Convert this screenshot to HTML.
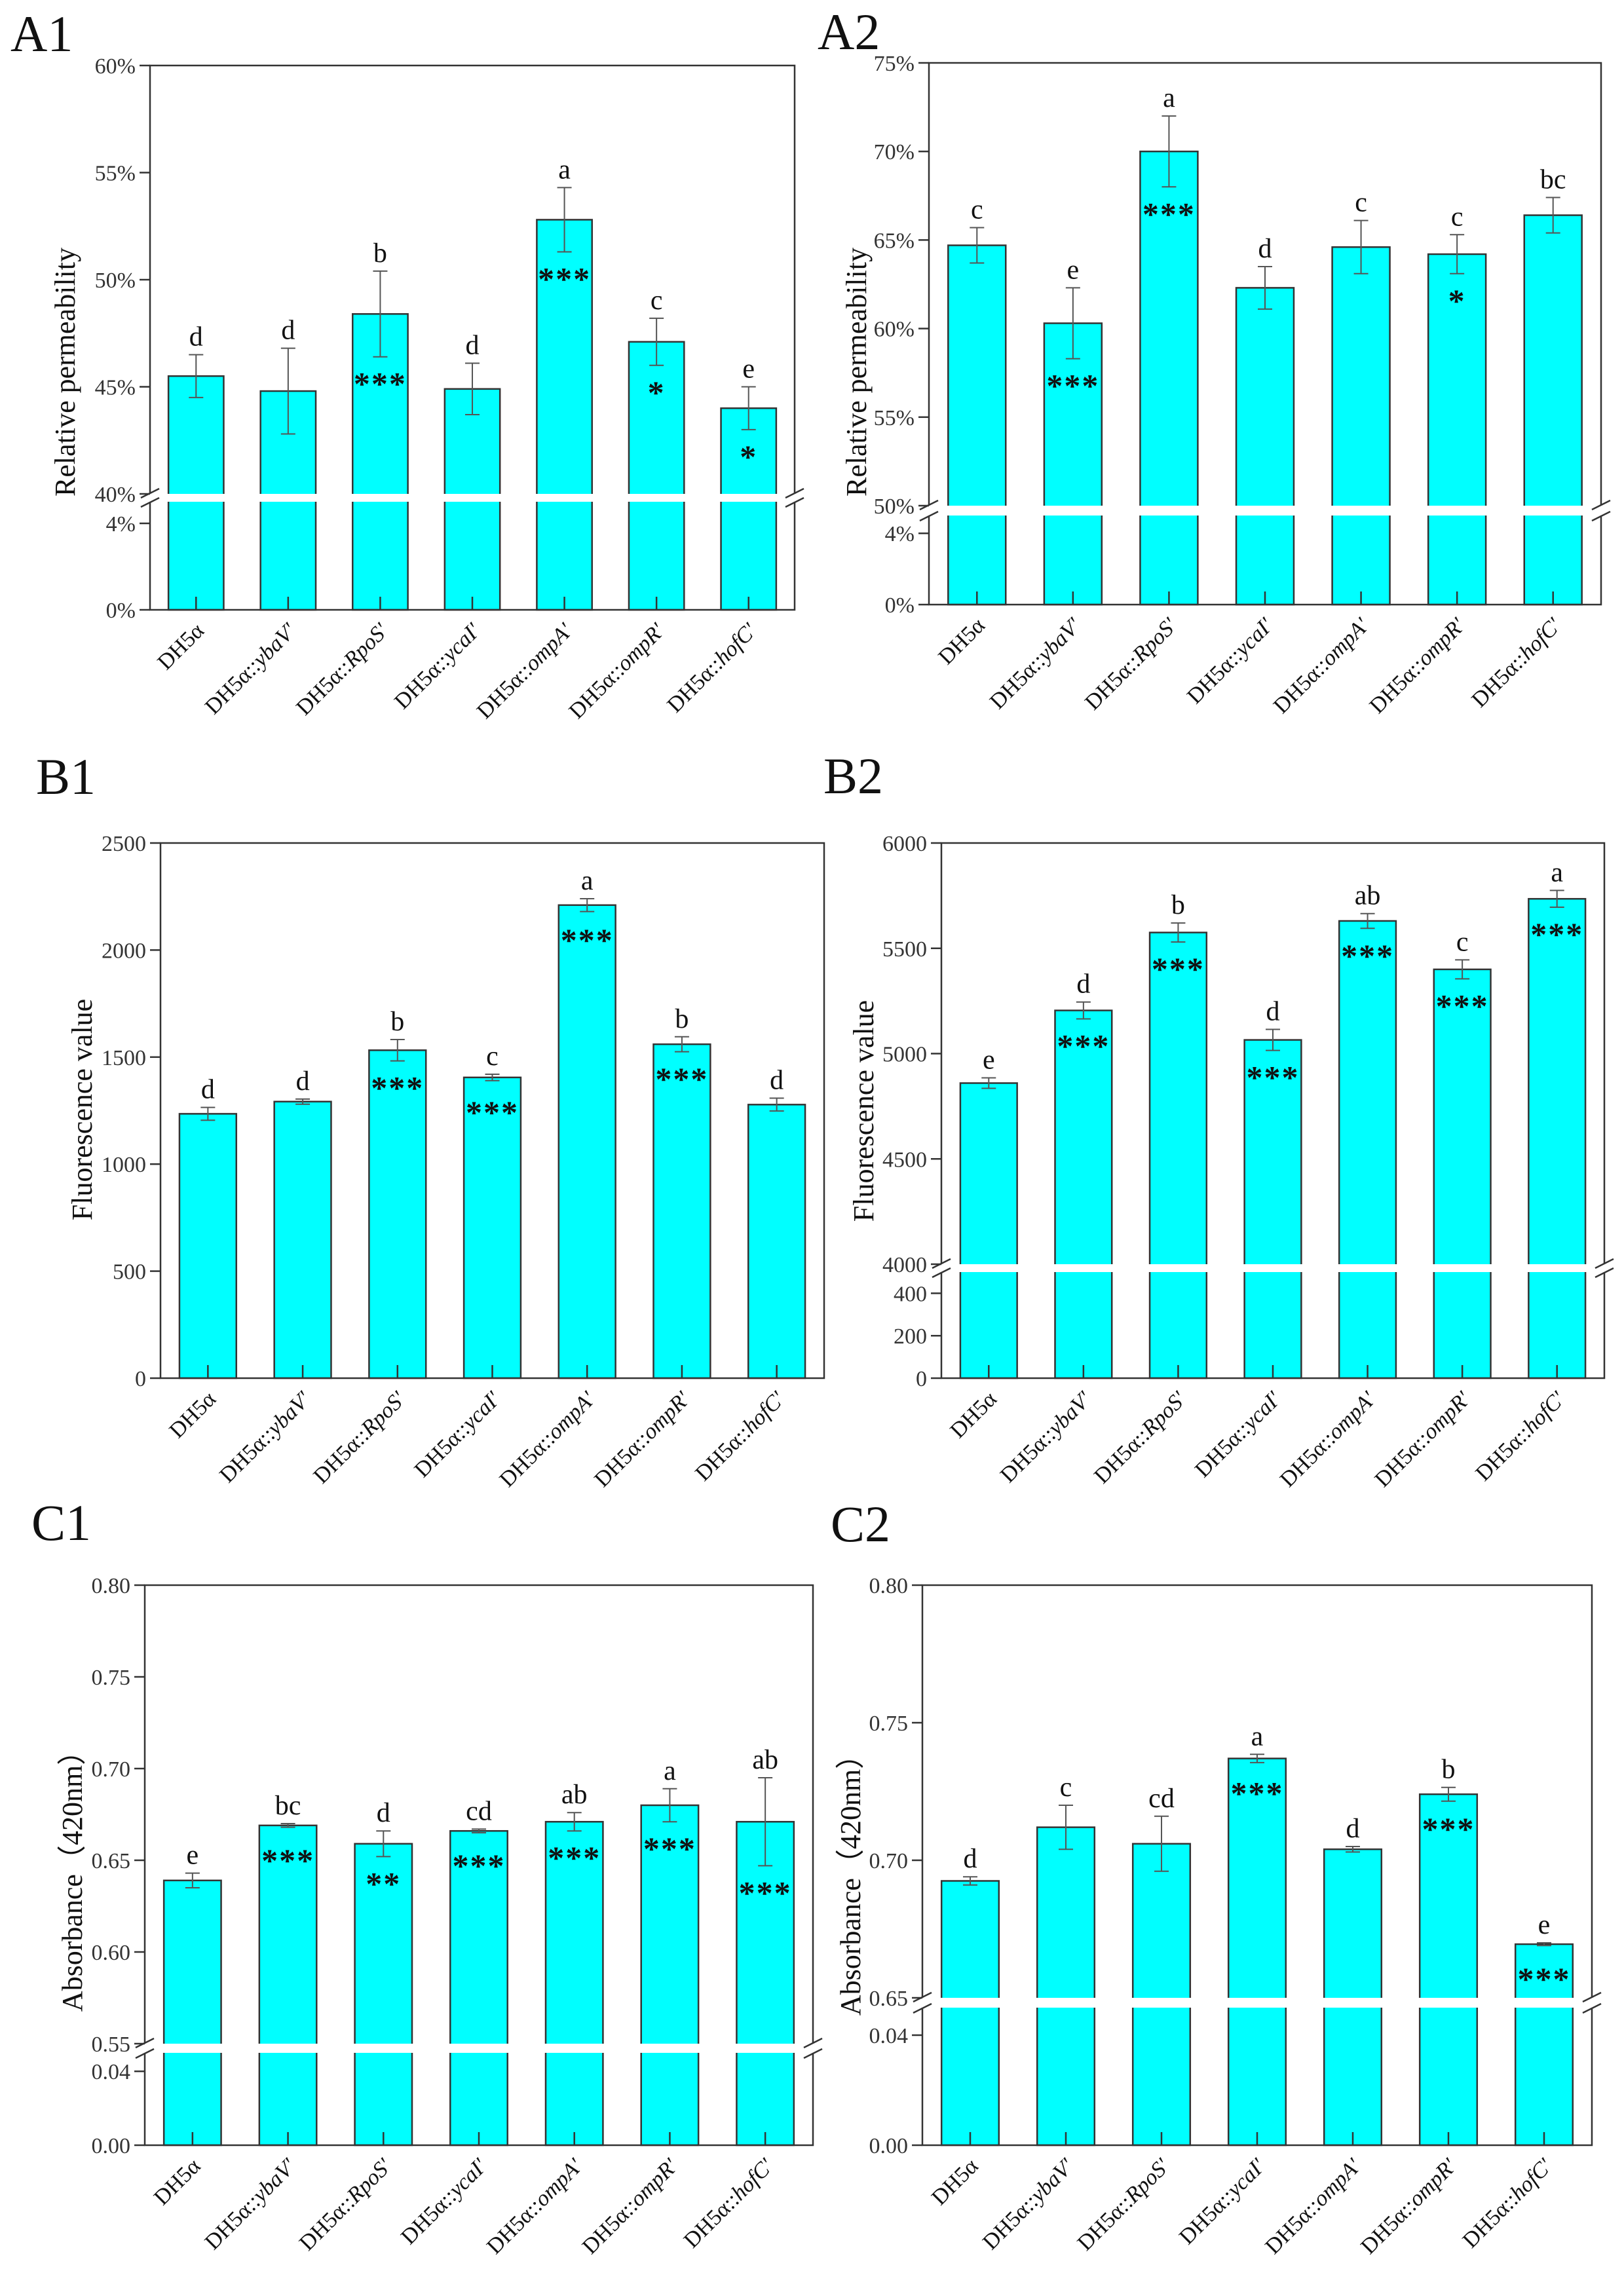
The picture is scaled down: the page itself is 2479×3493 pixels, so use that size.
<!DOCTYPE html>
<html><head><meta charset="utf-8">
<style>
html,body{margin:0;padding:0;background:#fff;}
svg{display:block;font-family:"Liberation Serif","Times New Roman",serif;}
</style></head>
<body>
<svg id="fig" xmlns="http://www.w3.org/2000/svg" width="2479" height="3493" viewBox="0 0 2479 3493">
<rect width="2479" height="3493" fill="#fff"/>
</svg>
<script>
const categories = ["DH5α","ybaV′","RpoS′","ycaI′","ompA′","ompR′","hofC′"];

const a1Values = [45.5,44.8,48.4,44.9,52.8,47.1,44.0];
const a1Errors = [1.0,2.0,2.0,1.2,1.5,1.1,1.0];
const a1Letters = ["d","d","b","d","a","c","e"];
const a1Stars = ["","","***","","***","*","*"];
const a1UpTicks = [40,45,50,55,60];
const a1LoTicks = [0,4];

const a2Values = [64.7,60.3,70.0,62.3,64.6,64.2,66.4];
const a2Errors = [1.0,2.0,2.0,1.2,1.5,1.1,1.0];
const a2Letters = ["c","e","a","d","c","c","bc"];
const a2Stars = ["","***","***","","","*",""];
const a2UpTicks = [50,55,60,65,70,75];
const a2LoTicks = [0,4];

const b1Values = [1235,1292,1532,1405,2210,1560,1278];
const b1Errors = [30,12,50,15,30,35,30];
const b1Letters = ["d","d","b","c","a","b","d"];
const b1Stars = ["","","***","***","***","***",""];
const b1Ticks = [0,500,1000,1500,2000,2500];

const b2Values = [4860,5205,5575,5065,5630,5400,5735];
const b2Errors = [25,40,45,50,35,45,40];
const b2Letters = ["e","d","b","d","ab","c","a"];
const b2Stars = ["","***","***","***","***","***","***"];
const b2UpTicks = [4000,4500,5000,5500,6000];
const b2LoTicks = [0,200,400];

const c1Values = [0.639,0.669,0.659,0.666,0.671,0.680,0.671];
const c1Errors = [0.004,0.001,0.007,0.001,0.005,0.009,0.024];
const c1Letters = ["e","bc","d","cd","ab","a","ab"];
const c1Stars = ["","***","**","***","***","***","***"];
const c1UpTicks = [0.55,0.60,0.65,0.70,0.75,0.80];
const c1LoTicks = [0.00,0.04];

const c2Values = [0.6925,0.712,0.706,0.737,0.704,0.724,0.6695];
const c2Errors = [0.0015,0.008,0.010,0.0015,0.001,0.0025,0.0005];
const c2Letters = ["d","c","cd","a","d","b","e"];
const c2Stars = ["","","","***","","***","***"];
const c2UpTicks = [0.65,0.70,0.75,0.80];
const c2LoTicks = [0.00,0.04];

const NS = "http://www.w3.org/2000/svg";
const svg = document.getElementById("fig");
function mk(tag, attrs, parent){
  const e = document.createElementNS(NS, tag);
  for (const k in attrs) e.setAttribute(k, attrs[k]);
  (parent||svg).appendChild(e);
  return e;
}

function panel(p){
  const g = mk("g", {});
  
  
  const step = (p.right - p.left) / categories.length;
  const bw = step * 0.6;
  const xc = i => p.left + (i + 0.5) * step;
  const y = v => {
    if (p.brk && v < p.upMin) return p.bottom - v / p.loMax * (p.bottom - p.brkLo);
    const lo = p.brk ? p.brkHi : p.bottom;
    return p.top + (p.upMax - v) / (p.upMax - p.upMin) * (lo - p.top);
  };
  const lab = mk("text", {x:p.labX, y:p.labY, "font-size":78, fill:"#111"}, g);
  lab.textContent = p.label;
  
  
  for (let i = 0; i < categories.length; i++) {
    const v = p.values[i];
    const yt = y(v);
    const bar = mk("rect", {x:xc(i)-bw/2, y:yt, width:bw, height:p.bottom-yt, fill:"#00FFFF", stroke:"#333", "stroke-width":2.5}, g);
    
    
  }
  if (p.brk) {
    const band = mk("rect", {x:p.left-30, y:p.brkHi, width:p.right-p.left+60, height:p.brkLo-p.brkHi, fill:"#fff"}, g);
    
    
  }
  for (let i = 0; i < categories.length; i++) {
    const v = p.values[i], e = p.errors[i];
    const yh = y(v + e), yl = y(v - e), x = xc(i);
    const eb = mk("path", {d:`M${x},${yh}V${yl}M${x-11},${yh}H${x+11}M${x-11},${yl}H${x+11}`, stroke:"#555", "stroke-width":2, fill:"none"}, g);
    
    
    const lt = mk("text", {x:x, y:yh-14, "font-size":42, "text-anchor":"middle", fill:"#111"}, g);
    lt.textContent = p.letters[i];
    
    
    if (p.stars[i]) {
      const sy = Math.max(yl, y(v) + 12) + 58;
      const st = mk("text", {x:x, y:sy, "font-size":50, "font-weight":"bold", "text-anchor":"middle", fill:"#111", "letter-spacing":"2"}, g);
      st.textContent = p.stars[i];
      
      
    }
    mk("line", {x1:x, x2:x, y1:p.bottom, y2:p.bottom-20, stroke:"#333", "stroke-width":2.5}, g);
    const tx = x + 14, ty = p.bottom + 34;
    const xl = mk("text", {x:tx, y:ty, "font-size":34, "text-anchor":"end", fill:"#111", transform:`rotate(-45 ${tx} ${ty})`}, g);
    
    
    if (i === 0) { xl.textContent = categories[i]; }
    else {
      const t1 = mk("tspan", {}, xl); t1.textContent = "DH5α::";
      const t2 = mk("tspan", {"font-style":"italic"}, xl); t2.textContent = categories[i];
    }
  }
  const ax = mk("path", {d: p.brk
      ? `M${p.left},${p.brkLo}V${p.bottom}H${p.right}V${p.brkLo}M${p.left},${p.brkHi}V${p.top}H${p.right}V${p.brkHi}`
      : `M${p.left},${p.top}V${p.bottom}H${p.right}V${p.top}Z`,
    stroke:"#333", "stroke-width":2.5, fill:"none"}, g);
  
  
  if (p.brk) {
    for (const xx of [p.left, p.right]) {
      mk("path", {d:`M${xx-14},${p.brkHi+6}L${xx+14},${p.brkHi-8}M${xx-14},${p.brkLo+8}L${xx+14},${p.brkLo-6}`, stroke:"#333", "stroke-width":2.5}, g);
    }
  }
  const ticks = p.upTicks.concat(p.brk ? p.loTicks : []);
  ticks.forEach(t => {
    const yy = y(t);
    mk("line", {x1:p.left-16, x2:p.left, y1:yy, y2:yy, stroke:"#333", "stroke-width":2.5}, g);
    const tl = mk("text", {x:p.left-22, y:yy+12, "font-size":34, "text-anchor":"end", fill:"#333"}, g);
    tl.textContent = p.fmt(t);
    
    
  });
  const yt = mk("text", {x:p.ytX, y:p.ytY, "font-size":44, "text-anchor":"middle", fill:"#111", transform:`rotate(-90 ${p.ytX} ${p.ytY})`}, g);
  yt.textContent = p.ytitle;
  
  
}

const pct = t => t + "%";
const f2 = t => t.toFixed(2);
const int = t => String(t);

panel({id:"a1", label:"A1", labX:16, labY:78, left:229, right:1213, top:100, bottom:931, brk:true, brkHi:754, brkLo:766,
  upMin:40, upMax:60, loMax:5, upTicks:a1UpTicks, loTicks:a1LoTicks, fmt:pct,
  values:a1Values, errors:a1Errors, letters:a1Letters, stars:a1Stars, ytitle:"Relative permeability", ytX:114, ytY:568});
panel({id:"a2", label:"A2", labX:1248, labY:75, left:1418, right:2444, top:96, bottom:923, brk:true, brkHi:772, brkLo:787,
  upMin:50, upMax:75, loMax:5, upTicks:a2UpTicks, loTicks:a2LoTicks, fmt:pct,
  values:a2Values, errors:a2Errors, letters:a2Letters, stars:a2Stars, ytitle:"Relative permeability", ytX:1322, ytY:568});
panel({id:"b1", label:"B1", labX:55, labY:1212, left:245, right:1258, top:1287, bottom:2104, brk:false,
  upMin:0, upMax:2500, upTicks:b1Ticks, loTicks:[], fmt:int,
  values:b1Values, errors:b1Errors, letters:b1Letters, stars:b1Stars, ytitle:"Fluorescence value", ytX:140, ytY:1694});
panel({id:"b2", label:"B2", labX:1257, labY:1211, left:1437, right:2449, top:1287, bottom:2104, brk:true, brkHi:1930, brkLo:1942,
  upMin:4000, upMax:6000, loMax:500, upTicks:b2UpTicks, loTicks:b2LoTicks, fmt:int,
  values:b2Values, errors:b2Errors, letters:b2Letters, stars:b2Stars, ytitle:"Fluorescence value", ytX:1333, ytY:1696});
panel({id:"c1", label:"C1", labX:48, labY:2351, left:221, right:1241, top:2420, bottom:3275, brk:true, brkHi:3120, brkLo:3134,
  upMin:0.55, upMax:0.80, loMax:0.05, upTicks:c1UpTicks, loTicks:c1LoTicks, fmt:f2,
  values:c1Values, errors:c1Errors, letters:c1Letters, stars:c1Stars, ytitle:"Absorbance（420nm）", ytX:125, ytY:2861});
panel({id:"c2", label:"C2", labX:1268, labY:2353, left:1408, right:2430, top:2420, bottom:3275, brk:true, brkHi:3050, brkLo:3065,
  upMin:0.65, upMax:0.80, loMax:0.05, upTicks:c2UpTicks, loTicks:c2LoTicks, fmt:f2,
  values:c2Values, errors:c2Errors, letters:c2Letters, stars:c2Stars, ytitle:"Absorbance（420nm）", ytX:1313, ytY:2867});
</script>
</body></html>
